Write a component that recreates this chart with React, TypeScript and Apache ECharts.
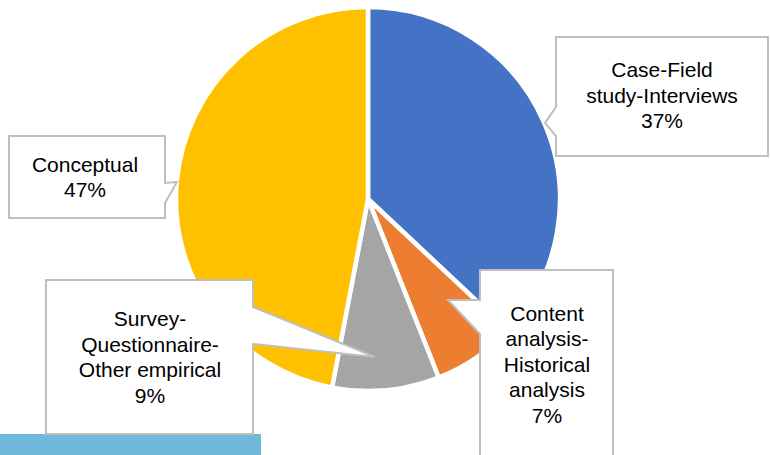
import React, { useEffect, useRef } from "react";
import * as echarts from "echarts";

const categories = [
  "Case-Field study-Interviews",
  "Content analysis-Historical analysis",
  "Survey-Questionnaire-Other empirical",
  "Conceptual",
];
const values = [37, 7, 9, 47];
const labelLines = [
  ["Case-Field", "study-Interviews"],
  ["Content", "analysis-", "Historical", "analysis"],
  ["Survey-", "Questionnaire-", "Other empirical"],
  ["Conceptual"],
];
const colors = ["#4472c4", "#ed7d31", "#a5a5a5", "#ffc000"];

// callout shapes (box + pointer) and text centres
const callouts = [
  {
    points: [[556, 37], [768, 37], [768, 156], [556, 156], [556, 136], [545, 123], [556, 107]],
    cx: 662, cy: 95,
  },
  {
    points: [[480, 270], [613, 270], [613, 462], [480, 462], [480, 334], [448, 300], [480, 300]],
    cx: 547, cy: 364,
  },
  {
    points: [[46, 280], [253, 280], [253, 307], [375, 357], [253, 344], [253, 434], [46, 434]],
    cx: 150, cy: 357,
  },
  {
    points: [[9, 136], [165, 136], [165, 183], [177, 182], [165, 203], [165, 218], [9, 218]],
    cx: 85, cy: 177,
  },
];

export default function App() {
  const ref = useRef<HTMLDivElement>(null);
  useEffect(() => {
    if (!ref.current) return;
    const chart = echarts.init(ref.current, null, { renderer: "svg" });
    const total = values.reduce((a, b) => a + b, 0);
    const graphics: any[] = [
      {
        type: "rect",
        shape: { x: 0, y: 434, width: 261, height: 21 },
        style: { fill: "#70b9da" },
        z: 5,
      },
    ];
    callouts.forEach((c, i) => {
      graphics.push({
        type: "polygon",
        shape: { points: c.points },
        style: { fill: "#ffffff", stroke: "#bfbfbf", lineWidth: 2 },
        z: 10,
      });
      const txt = [...labelLines[i], Math.round((values[i] / total) * 100) + "%"].join("\n");
      graphics.push({
        type: "text",
        x: c.cx,
        y: c.cy,
        z: 11,
        style: {
          text: txt,
          align: "center",
          verticalAlign: "middle",
          fill: "#000000",
          font: '21px "Liberation Sans", Arial, sans-serif',
          lineHeight: 25.5,
        },
      });
    });
    chart.setOption({
      animation: false,
      backgroundColor: "#ffffff",
      series: [
        {
          type: "pie",
          center: [368, 199],
          radius: 192,
          startAngle: 90,
          clockwise: true,
          label: { show: false },
          labelLine: { show: false },
          itemStyle: { borderColor: "#ffffff", borderWidth: 4.5 },
          data: categories.map((name, i) => ({
            name,
            value: values[i],
            itemStyle: { color: colors[i] },
          })),
        },
      ],
      graphic: graphics,
    });
    return () => chart.dispose();
  }, []);
  return (
    <div
      ref={ref}
      style={{ position: "absolute", left: 0, top: 0, width: 770, height: 455 }}
    />
  );
}
